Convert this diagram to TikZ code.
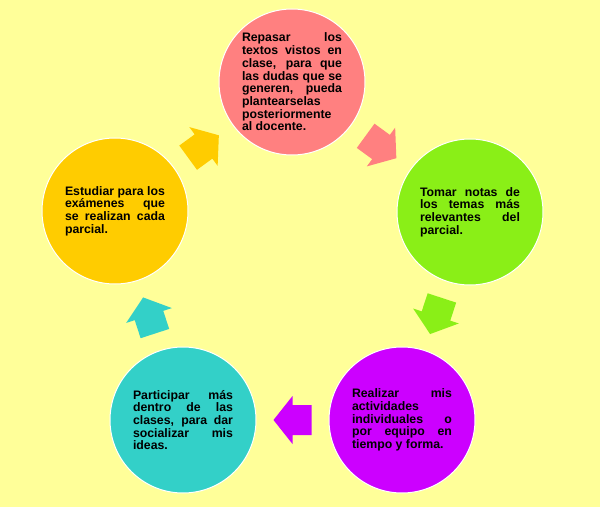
\documentclass[tikz,border=0pt]{standalone}
\usepackage{fontspec}
\setmainfont{Liberation Sans}
\usetikzlibrary{calc}
\definecolor{fondo}{HTML}{FFFF99}
\definecolor{rosa}{HTML}{FF8080}
\definecolor{verde}{HTML}{8AEF17}
\definecolor{morado}{HTML}{CC00FF}
\definecolor{turquesa}{HTML}{33D0C8}
\definecolor{naranja}{HTML}{FFCC00}
\newcommand\jl[1]{\makebox[100pt][s]{#1}}
% flecha de bloque entre dos circulos: {desde}{hasta}{color}
\newcommand\flecha[3]{%
	\fill[#3] let \p1=($(#2)-(#1)$), \n1={atan2(\y1,\x1)} in
		[shift={($(#1)!0.5!(#2)$)}, rotate=\n1]
		(-19,-15) -- (0,-15) -- (0,-24) -- (19,0) -- (0,24) -- (0,15) -- (-19,15) -- cycle;}

\begin{document}
\begin{tikzpicture}[x=1pt,y=1pt,
	paso/.style={circle, draw=white, line width=1pt, minimum size=146pt, inner sep=0pt, text width=100pt, align=justify, font=\fontsize{12.3}{12.7}\selectfont\bfseries}]
			\fill[fondo] (0,0) rectangle (600,507);
			\useasboundingbox (0,0) rectangle (600,507);
			% circulos
			\node[paso, fill=rosa] (repasar) at (292,425) {\jl{Repasar los}\\ \jl{textos vistos en}\\ \jl{clase, para que}\\ \jl{las dudas que se}\\ \jl{generen, pueda}\\ plantearselas\\ posteriormente\\ al docente.};
			\node[paso, fill=verde] (tomar) at (470,295) {\jl{Tomar notas de}\\ \jl{los temas más}\\ \jl{relevantes del}\\ parcial.};
			\node[paso, fill=morado] (realizar) at (402,87) {\jl{Realizar mis}\\ actividades\\ \jl{individuales o}\\ \jl{por equipo en}\\ tiempo y forma.};
			\node[paso, fill=turquesa] (participar) at (183,87) {\jl{Participar más}\\ \jl{dentro de las}\\ \jl{clases, para dar}\\ \jl{socializar mis}\\ ideas.};
			\node[paso, fill=naranja] (estudiar) at (115,296) {\jl{Estudiar para los}\\ \jl{exámenes que}\\ \jl{se realizan cada}\\ parcial.};
			% flechas
			\flecha{repasar}{tomar}{rosa}
			\flecha{tomar}{realizar}{verde}
			\flecha{realizar}{participar}{morado}
			\flecha{participar}{estudiar}{turquesa}
			\flecha{estudiar}{repasar}{naranja}
\end{tikzpicture}
\end{document}
